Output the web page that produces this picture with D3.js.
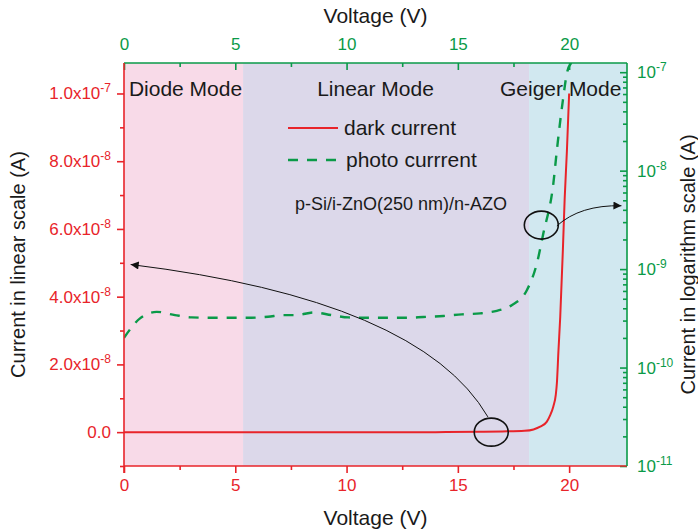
<!DOCTYPE html>
<html>
<head>
<meta charset="utf-8">
<script src="https://cdn.jsdelivr.net/npm/d3@7"></script>
<style>
  body { margin: 0; background: #fff; }
  text { font-family: Arial, "Liberation Sans", sans-serif; }
</style>
</head>
<body>
<svg id="chart" width="698" height="532"></svg>
<script>
// ---- data ----
const voltageTicks = [0, 5, 10, 15, 20];
const voltageMinor = [2.5, 7.5, 12.5, 17.5];
const linearTicks = [0, 2e-8, 4e-8, 6e-8, 8e-8, 1e-7];
const linearMinor = [-1e-8, 1e-8, 3e-8, 5e-8, 7e-8, 9e-8];
const logTicks = [1e-11, 1e-10, 1e-9, 1e-8, 1e-7];
const modeNames = ["Diode Mode", "Linear Mode", "Geiger Mode"];
const modeBounds = [0, 5.35, 18.2, 22.6];

// dark current (A), linear scale
const darkV = [0, 2, 4, 6, 8, 10, 12, 14, 16, 17, 18, 18.4, 18.7, 19.0, 19.15, 19.29, 19.4, 19.45, 19.52, 19.6, 19.72, 19.8, 19.9, 20.0];
const darkI = [0, 0, 0, 0, 0, 0, 0, 0, 1e-10, 2e-10, 4e-10, 8e-10, 1.6e-9, 3.1e-9, 5e-9, 7.6e-9, 1.1e-8, 1.45e-8, 2.4e-8, 3.4e-8, 5.4e-8, 6.9e-8, 8.3e-8, 1.0e-7];

// photo current (A), logarithmic scale
const photoV = [0, 0.72, 1.47, 2.29, 3.04, 3.87, 4.76, 5.57, 6.47, 7.15, 7.76, 8.51, 9.33, 10.08, 10.91, 11.78, 12.63, 13.45, 14.35, 15.18, 16.0, 16.75, 17.42, 18.1, 18.55, 18.84, 19.29, 19.45, 19.72, 19.91, 20.1];
const photoI = [2.0e-10, 3.16e-10, 3.68e-10, 3.41e-10, 3.23e-10, 3.2e-10, 3.2e-10, 3.2e-10, 3.28e-10, 3.41e-10, 3.41e-10, 3.63e-10, 3.41e-10, 3.23e-10, 3.2e-10, 3.2e-10, 3.2e-10, 3.26e-10, 3.34e-10, 3.47e-10, 3.55e-10, 3.77e-10, 4.3e-10, 6.1e-10, 1.14e-9, 2.3e-9, 7.4e-9, 1.62e-8, 5.2e-8, 1.0e-7, 1.25e-7];

// ---- layout ----
const RED = "#e8242a", GREEN = "#0a9a48";
const pL = 124, pR = 627, pT = 63, pB = 466;
const svg = d3.select("#chart");

const x = d3.scaleLinear().domain([0, 22.6]).range([pL, pR]);
const yLin = d3.scaleLinear().domain([-1e-8, 1.09e-7]).range([pB, pT]);
const yLog = d3.scaleLog().domain([1e-11, 1.24e-7]).range([pB, pT]);

// mode backgrounds
const modeFill = ["#f8dae8", "#dcd8ea", "#d1e8f0"];
svg.selectAll("rect.mode").data(modeNames).join("rect")
  .attr("class", "mode")
  .attr("x", (d, i) => x(modeBounds[i]))
  .attr("width", (d, i) => x(modeBounds[i + 1]) - x(modeBounds[i]))
  .attr("y", pT).attr("height", pB - pT)
  .attr("fill", (d, i) => modeFill[i]);

// mode labels
const modeLabelPos = [
  { v: 0.22, anchor: "start" },
  { v: 11.3, anchor: "middle" },
  { v: 22.35, anchor: "end" }
];
svg.selectAll("text.mode").data(modeNames).join("text")
  .attr("class", "mode")
  .attr("x", (d, i) => x(modeLabelPos[i].v))
  .attr("y", 96)
  .attr("text-anchor", (d, i) => modeLabelPos[i].anchor)
  .attr("font-size", 21).attr("fill", "#1a1a1a")
  .text(d => d);

// clip for curves
svg.append("clipPath").attr("id", "plotClip")
  .append("rect").attr("x", pL).attr("y", pT).attr("width", pR - pL).attr("height", pB - pT);

const darkLine = d3.line().x(d => x(d[0])).y(d => yLin(d[1])).curve(d3.curveMonotoneX);
const photoLine = d3.line().x(d => x(d[0])).y(d => yLog(d[1])).curve(d3.curveMonotoneX);

svg.append("path")
  .attr("clip-path", "url(#plotClip)")
  .attr("d", photoLine(d3.zip(photoV, photoI)))
  .attr("fill", "none").attr("stroke", GREEN).attr("stroke-width", 2.4)
  .attr("stroke-dasharray", "10,9");

svg.append("path")
  .attr("clip-path", "url(#plotClip)")
  .attr("d", darkLine(d3.zip(darkV, darkI)))
  .attr("fill", "none").attr("stroke", RED).attr("stroke-width", 2);

// ---- axes ----
function styleAxis(g, color) {
  g.select(".domain").remove();
  g.selectAll(".tick line").attr("stroke", color).attr("stroke-width", 1.6);
  g.selectAll(".tick text").attr("fill", color).attr("font-size", 17);
}

// bottom (red, ticks outward)
svg.append("g").attr("transform", `translate(0,${pB})`)
  .call(d3.axisBottom(x).tickValues(voltageTicks).tickSize(7).tickPadding(6).tickFormat(d3.format("d")))
  .call(g => styleAxis(g, RED));
svg.append("g").attr("transform", `translate(0,${pB})`)
  .call(d3.axisBottom(x).tickValues(voltageMinor).tickSize(4).tickFormat(""))
  .call(g => styleAxis(g, RED));

// top (green, ticks inward)
svg.append("g").attr("transform", `translate(0,${pT})`)
  .call(d3.axisTop(x).tickValues(voltageTicks).tickSize(-7).tickPadding(13).tickFormat(d3.format("d")))
  .call(g => styleAxis(g, GREEN));
svg.append("g").attr("transform", `translate(0,${pT})`)
  .call(d3.axisTop(x).tickValues(voltageMinor).tickSize(-4).tickFormat(""))
  .call(g => styleAxis(g, GREEN));

// superscript helper
function sciLabel(textSel, base, exp) {
  textSel.text(null);
  textSel.append("tspan").text(base);
  textSel.append("tspan").attr("dy", -7).attr("font-size", 12).text(exp);
}

// left (red, linear, ticks outward)
const gLeft = svg.append("g").attr("transform", `translate(${pL},0)`)
  .call(d3.axisLeft(yLin).tickValues(linearTicks).tickSize(7).tickPadding(6))
  .call(g => styleAxis(g, RED));
gLeft.selectAll(".tick text").each(function (d) {
  const t = d3.select(this);
  if (d === 0) { t.text("0.0"); return; }
  const e = Math.floor(Math.log10(d) + 1e-9);
  const m = d / Math.pow(10, e);
  sciLabel(t, m.toFixed(1) + "x10", String(e));
});
svg.append("g").attr("transform", `translate(${pL},0)`)
  .call(d3.axisLeft(yLin).tickValues(linearMinor).tickSize(4).tickFormat(""))
  .call(g => styleAxis(g, RED));

// right (green, log, ticks inward)
const logMinor = [];
for (let e = -11; e <= -8; e++) for (let k = 2; k <= 9; k++) logMinor.push(k * Math.pow(10, e));
const gRight = svg.append("g").attr("transform", `translate(${pR},0)`)
  .call(d3.axisRight(yLog).tickValues(logTicks).tickSize(-7).tickPadding(10))
  .call(g => styleAxis(g, GREEN));
gRight.selectAll(".tick text").each(function (d) {
  sciLabel(d3.select(this), "10", String(Math.round(Math.log10(d))));
});
svg.append("g").attr("transform", `translate(${pR},0)`)
  .call(d3.axisRight(yLog).tickValues(logMinor).tickSize(-4).tickFormat(""))
  .call(g => styleAxis(g, GREEN));

// axis lines
svg.append("line").attr("x1", pL).attr("x2", pR).attr("y1", pB).attr("y2", pB)
  .attr("stroke", RED).attr("stroke-width", 1.6);
svg.append("line").attr("x1", pL).attr("x2", pR).attr("y1", pT).attr("y2", pT)
  .attr("stroke", GREEN).attr("stroke-width", 1.6);
svg.append("line").attr("x1", pL).attr("x2", pL).attr("y1", pT).attr("y2", pB + 7)
  .attr("stroke", RED).attr("stroke-width", 1.6);
svg.append("line").attr("x1", pR).attr("x2", pR).attr("y1", pT).attr("y2", pB)
  .attr("stroke", GREEN).attr("stroke-width", 1.6);

// axis titles
svg.append("text").attr("x", x(11.3)).attr("y", 23).attr("text-anchor", "middle")
  .attr("font-size", 21).attr("fill", "#1a1a1a").text("Voltage (V)");
svg.append("text").attr("x", x(11.3)).attr("y", 525).attr("text-anchor", "middle")
  .attr("font-size", 21).attr("fill", "#1a1a1a").text("Voltage (V)");
svg.append("text").attr("transform", `translate(18,${(pT + pB) / 2}) rotate(-90)`)
  .attr("text-anchor", "middle").attr("dominant-baseline", "central")
  .attr("font-size", 20).attr("fill", "#1a1a1a").text("Current in linear scale (A)");
svg.append("text").attr("transform", `translate(688,${(pT + pB) / 2}) rotate(-90)`)
  .attr("text-anchor", "middle").attr("dominant-baseline", "central")
  .attr("font-size", 20).attr("fill", "#1a1a1a").text("Current in logarithm scale (A)");

// legend
const legend = svg.append("g");
legend.append("line").attr("x1", 288).attr("x2", 338).attr("y1", 128).attr("y2", 128)
  .attr("stroke", RED).attr("stroke-width", 2);
legend.append("text").attr("x", 344).attr("y", 135).attr("font-size", 21).attr("fill", "#1a1a1a").text("dark current");
legend.append("line").attr("x1", 288).attr("x2", 338).attr("y1", 160).attr("y2", 160)
  .attr("stroke", GREEN).attr("stroke-width", 2.4).attr("stroke-dasharray", "10,9");
legend.append("text").attr("x", 346).attr("y", 167).attr("font-size", 21).attr("fill", "#1a1a1a").text("photo currrent");

// device label
svg.append("text").attr("x", 401).attr("y", 210).attr("text-anchor", "middle")
  .attr("font-size", 18).attr("fill", "#1a1a1a").text("p-Si/i-ZnO(250 nm)/n-AZO");

// annotations: circles and arrows
const defs = svg.append("defs");
defs.append("marker").attr("id", "arrowHead")
  .attr("viewBox", "0 0 10 10").attr("refX", 10).attr("refY", 5)
  .attr("markerWidth", 11).attr("markerHeight", 8).attr("markerUnits", "userSpaceOnUse")
  .attr("orient", "auto")
  .append("path").attr("d", "M0,0 L10,5 L0,10 Z").attr("fill", "#111");

svg.append("ellipse").attr("cx", x(16.5)).attr("cy", yLin(0)).attr("rx", 17).attr("ry", 14)
  .attr("fill", "none").attr("stroke", "#111").attr("stroke-width", 1.6);
svg.append("ellipse").attr("cx", x(18.75)).attr("cy", yLog(2.8e-9)).attr("rx", 17).attr("ry", 14)
  .attr("fill", "none").attr("stroke", "#111").attr("stroke-width", 1.6);

const p0 = [x(16.35), yLin(0.45e-8)], c0 = [x(13.3), yLin(3.9e-8)], e0 = [x(0.3), yLin(4.95e-8)];
svg.append("path")
  .attr("d", `M${p0[0]},${p0[1]} Q${c0[0]},${c0[1]} ${e0[0]},${e0[1]}`)
  .attr("fill", "none").attr("stroke", "#111").attr("stroke-width", 1)
  .attr("marker-end", "url(#arrowHead)");

const p1 = [x(19.45), yLog(2.75e-9)], c1 = [x(20.5), yLog(4.5e-9)], e1 = [x(22.35), yLog(4.4e-9)];
svg.append("path")
  .attr("d", `M${p1[0]},${p1[1]} Q${c1[0]},${c1[1]} ${e1[0]},${e1[1]}`)
  .attr("fill", "none").attr("stroke", "#111").attr("stroke-width", 1)
  .attr("marker-end", "url(#arrowHead)");
</script>
</body>
</html>
